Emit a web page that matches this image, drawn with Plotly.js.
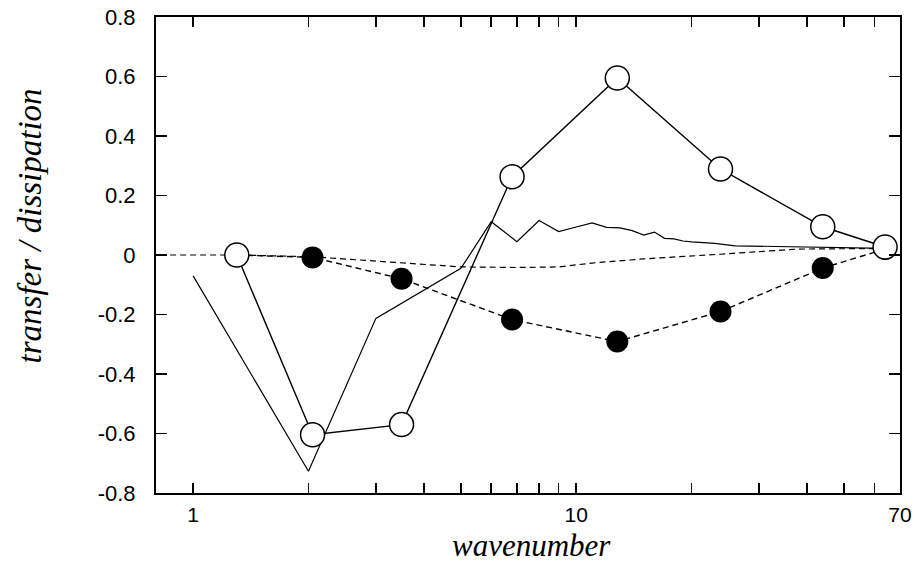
<!DOCTYPE html>
<html>
<head>
<meta charset="utf-8">
<script src="https://cdn.plot.ly/plotly-3.0.1.min.js"></script>
<style>html,body{margin:0;padding:0;background:#fff;}#chart{width:920px;height:564px;}</style>
</head>
<body>
<div id="chart"></div>
<script>
// Open circles (solid line)
const openK = [1.3, 2.05, 3.5, 6.8, 12.8, 23.8, 44, 64];
const openV = [0.0, -0.604, -0.570, 0.263, 0.595, 0.289, 0.095, 0.027];
// Filled circles (dashed line)
const filledK = [1.3, 2.05, 3.5, 6.8, 12.8, 23.8, 44, 64];
const filledV = [0.0, -0.008, -0.08, -0.217, -0.291, -0.19, -0.044, 0.02];
// Thin solid line (no markers)
const thinK = [1, 2, 3, 4, 5, 6, 7, 8, 9, 10, 11, 12, 13, 14, 15, 16, 17, 18, 19, 20, 23, 26, 40, 60, 64];
const thinV = [-0.07, -0.727, -0.213, -0.12, -0.045, 0.112, 0.045, 0.116, 0.079, 0.094, 0.108, 0.093, 0.091, 0.082, 0.067, 0.077, 0.056, 0.054, 0.047, 0.044, 0.039, 0.031, 0.026, 0.023, 0.022];
// Thin dashed line (no markers)
const dashK = [0.82, 1.3, 2.05, 3.5, 5, 7, 9, 11, 15, 22, 38, 64];
const dashV = [0.0, 0.0, -0.006, -0.025, -0.04, -0.042, -0.04, -0.027, -0.013, 0.0, 0.02, 0.022];
// Axis ticks
const xTickVals = [1,2,3,4,5,6,7,8,9,10,20,30,40,50,60,70];
const xTickText = ['1','','','','','','','','','10','','','','','','70'];
const yTickVals = [-0.8,-0.6,-0.4,-0.2,0,0.2,0.4,0.6,0.8];
const yTickText = ['-0.8','-0.6','-0.4','-0.2','0','0.2','0.4','0.6','0.8'];

const traces = [
  {x: dashK, y: dashV, mode: 'lines', line: {color: '#000', width: 1.2, dash: '6px,4px'}, hoverinfo: 'skip'},
  {x: thinK, y: thinV, mode: 'lines', line: {color: '#000', width: 1.2}, hoverinfo: 'skip'},
  {x: filledK, y: filledV, mode: 'lines+markers', line: {color: '#000', width: 1.4, dash: '6px,4px'},
   marker: {symbol: 'circle', size: 22, color: '#000', line: {width: 0}}},
  {x: openK, y: openV, mode: 'lines+markers', line: {color: '#000', width: 1.4},
   marker: {symbol: 'circle', size: 24, color: '#fff', line: {color: '#000', width: 1.5}}}
];

const axisFont = {family: '"Liberation Sans", Arial, sans-serif', size: 22, color: '#000'};
const xAxisFont = {family: '"Liberation Sans", Arial, sans-serif', size: 21, color: '#000'};
const layout = {
  width: 920, height: 564,
  margin: {l: 156, r: 20, t: 17, b: 71},
  paper_bgcolor: '#fff', plot_bgcolor: '#fff',
  showlegend: false,
  xaxis: {
    type: 'log', range: [Math.log10(0.8), Math.log10(70)],
    tickmode: 'array', tickvals: xTickVals, ticktext: xTickText,
    ticks: 'inside', ticklen: 10, tickwidth: 1.5, tickcolor: '#000',
    showline: true, linewidth: 2, linecolor: '#000', mirror: 'ticks',
    showgrid: false, zeroline: false, tickfont: xAxisFont, ticklabelstandoff: 2
  },
  yaxis: {
    range: [-0.8, 0.8],
    tickmode: 'array', tickvals: yTickVals, ticktext: yTickText,
    ticks: 'inside', ticklen: 11, tickwidth: 1.5, tickcolor: '#000',
    showline: true, linewidth: 2, linecolor: '#000', mirror: 'ticks',
    showgrid: false, zeroline: false, tickfont: axisFont, ticklabelstandoff: 14
  },
  annotations: [
    {text: 'wavenumber', xref: 'paper', yref: 'paper', x: 0.505, y: 0, yshift: -52,
     xanchor: 'center', yanchor: 'middle', showarrow: false,
     font: {family: '"Liberation Serif", "DejaVu Serif", serif', size: 31, color: '#000', style: 'italic'}},
    {text: 'transfer / dissipation', xref: 'paper', yref: 'paper', x: 0, xshift: -126, y: 0.56,
     xanchor: 'center', yanchor: 'middle', textangle: -90, showarrow: false,
     font: {family: '"Liberation Serif", "DejaVu Serif", serif', size: 33, color: '#000', style: 'italic'}}
  ]
};

Plotly.newPlot('chart', traces, layout, {displayModeBar: false, staticPlot: true});
</script>
</body>
</html>
